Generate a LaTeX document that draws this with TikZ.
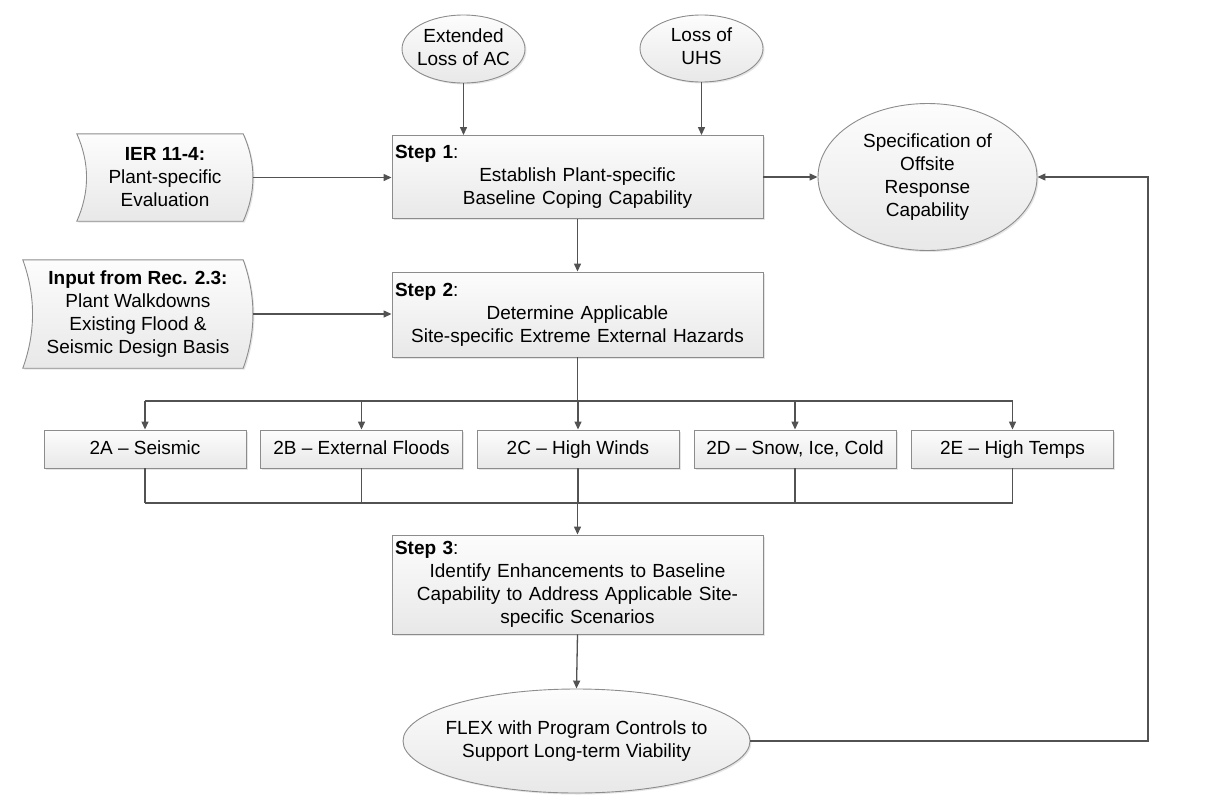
\documentclass[tikz,border=0pt]{standalone}
\usepackage{fontspec}
\setmainfont{Liberation Sans}
\usetikzlibrary{arrows.meta,shapes.geometric,shadows,calc,backgrounds}
\newcommand\elltext[1]{\makebox[0pt]{\begin{tabular}{@{}c@{}}#1\end{tabular}}}
\newcommand\steplab[1]{\makebox[365pt][l]{\textbf{Step #1}:}}
\begin{document}
\begin{tikzpicture}[x=1pt,y=-1pt,
  every node/.style={font=\fontsize{19}{23}\selectfont},
  boxfill/.style={draw=gray!90, line width=0.9pt, top color=black!1, bottom color=black!9,
    drop shadow={shadow xshift=1.5pt,shadow yshift=-1.5pt,fill=black,opacity=0.10}},
  stepbox/.style={boxfill, rectangle, minimum width=371pt, text width=365pt, inner xsep=3pt, inner ysep=0pt, align=center},
  hazbox/.style={boxfill, rectangle, minimum width=202pt, minimum height=38pt, inner sep=0pt, text height=14pt, text depth=4pt},
  oval/.style={boxfill, ellipse, inner sep=0pt},
  datanode/.style={align=center, inner sep=0pt},
  conn/.style={draw=black!68, line width=1.3pt},
  arr/.style={conn, -{Triangle[length=8pt,width=7pt]}}]
\useasboundingbox (0,0) rectangle (1205,809);

% top ellipses
\node[oval, minimum width=123pt, minimum height=68pt] (eac) at (463.5,49) {\elltext{Extended\\Loss of AC}};
\node[oval, minimum width=123pt, minimum height=67pt] (uhs) at (701.5,48.5) {\elltext{Loss of\\UHS}};

% steps
\node[stepbox, minimum height=83pt] (s1) at (577.5,177) {\steplab{1}\\Establish Plant-specific\\Baseline Coping Capability};
\node[stepbox, minimum height=85pt] (s2) at (577.5,314.5) {\steplab{2}\\Determine Applicable\\Site-specific Extreme External Hazards};
\node[stepbox, minimum height=99pt] (s3) at (577.5,584.5) {\steplab{3}\\Identify Enhancements to Baseline\\Capability to Address Applicable Site-\\specific Scenarios};

% right ellipse and bottom ellipse
\node[oval, minimum width=219pt, minimum height=147pt] (spec) at (927.5,177) {\elltext{Specification of\\Offsite\\Response\\Capability}};
\node[oval, minimum width=347pt, minimum height=104pt] (flex) at (576.5,741) {\elltext{FLEX with Program Controls to\\Support Long-term Viability}};

% hazard boxes
\node[hazbox] (h2a) at (145,449) {2A \textendash\ Seismic};
\node[hazbox] (h2b) at (361.5,449) {2B \textendash\ External Floods};
\node[hazbox] (h2c) at (578,449) {2C \textendash\ High Winds};
\node[hazbox] (h2d) at (795,449) {2D \textendash\ Snow, Ice, Cold};
\node[hazbox] (h2e) at (1012.5,449) {2E \textendash\ High Temps};

% data (stored) input shapes
\node[datanode, minimum width=166pt, minimum height=87pt] (ier) at (165,177.5) {\textbf{IER 11-4:}\\Plant-specific\\Evaluation};
\node[datanode, minimum width=220pt, minimum height=108pt] (inp) at (138,314) {\textbf{Input from Rec. 2.3:}\\Plant Walkdowns\\Existing Flood \&\\Seismic Design Basis};
\begin{scope}[on background layer]
\path[boxfill] ($(ier.north west)+(-5,0)$) -- ($(ier.north east)+(-5,0)$)
  .. controls +(13,29) and +(13,-29) .. ($(ier.south east)+(-5,0)$)
  -- ($(ier.south west)+(-5,0)$)
  .. controls +(13,-29) and +(13,29) .. ($(ier.north west)+(-5,0)$) -- cycle;
\path[boxfill] ($(inp.north west)+(-5,0)$) -- ($(inp.north east)+(-5,0)$)
  .. controls +(13,36) and +(13,-36) .. ($(inp.south east)+(-5,0)$)
  -- ($(inp.south west)+(-5,0)$)
  .. controls +(13,-36) and +(13,36) .. ($(inp.north west)+(-5,0)$) -- cycle;
\end{scope}

% connectors
\coordinate (ierR) at ($(ier.east)+(5,0)$);
\coordinate (inpR) at ($(inp.east)+(5,0)$);
\draw[arr] (ierR) -- (ierR -| s1.west);
\draw[arr] (inpR) -- (inpR -| s2.west);
\draw[arr] (eac.south) -- (eac.south |- s1.north);
\draw[arr] (uhs.south) -- (uhs.south |- s1.north);
\draw[arr] (s1.east) -- (spec.west);
\draw[arr] (s1.south) -- (s2.north);

\coordinate (bus1) at (577.5,401);
\coordinate (bus2) at (577.5,503);
\draw[conn] (s2.south) -- (bus1);
\draw[conn] (h2a.north |- bus1) -- (h2e.north |- bus1);
\foreach \n in {h2a,h2b,h2c,h2d,h2e}{
  \draw[arr] (\n.north |- bus1) -- (\n.north);
  \draw[conn] (\n.south) -- (\n.south |- bus2);
}
\draw[conn] (h2a.south |- bus2) -- (h2e.south |- bus2);
\draw[arr] (bus2) -- (s3.north);
\draw[arr] (s3.south) -- (flex.north);

\coordinate (fb) at (1148,741);
\draw[arr] (flex.east) -- (fb) |- (spec.east);
\end{tikzpicture}
\end{document}
